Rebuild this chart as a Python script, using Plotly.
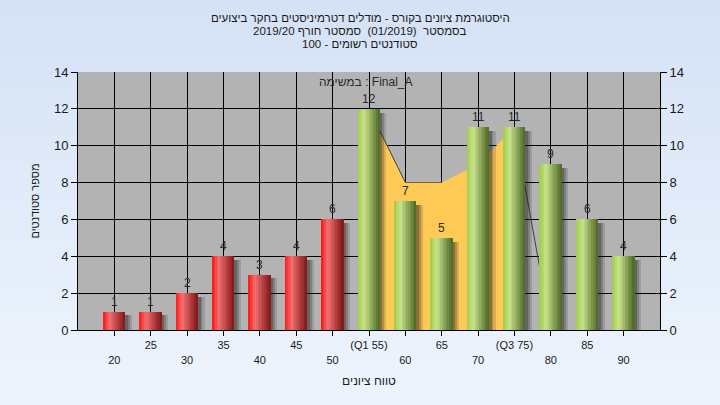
import plotly.graph_objects as go

# ---- data ----
categories = [20, 25, 30, 35, 40, 45, 50, 55, 60, 65, 70, 75, 80, 85, 90]
counts = [1, 1, 2, 4, 3, 4, 6, 12, 7, 5, 11, 11, 9, 6, 4]
fail_limit = 55  # bars below are red
tick_labels = ["20", "25", "30", "35", "40", "45", "50", "(Q1 55)", "60", "65",
               "70", "(Q3 75)", "80", "85", "90"]
curve_x = [55, 60, 65, 70, 75, 80]
curve_y = [12, 8, 8, 9, 11, 0]
y_ticks = [0, 2, 4, 6, 8, 10, 12, 14]

title_lines = ["היסטוגרמת ציונים בקורס - מודלים דטרמיניסטים בחקר ביצועים",
               "בסמסטר  (01/2019)  סמסטר חורף 2019/20",
               "סטודנטים רשומים - 100"]
series_label = "במשימה : Final_A"
x_title = "טווח ציונים"
y_title = "מספר סטודנטים"

FONT = "Liberation Sans, Arial, sans-serif"
W, H = 720, 405
ML, MR, MT, MB = 78, 60, 72, 75
PW, PH = W - ML - MR, H - MT - MB

fig = go.Figure()

# area behind bars (main axes)
n_fill = 5
fig.add_trace(go.Scatter(x=curve_x[:n_fill], y=curve_y[:n_fill], mode="lines",
                         fill="tozeroy", fillcolor="#FFC955",
                         line=dict(width=0, color="#FFC955"), hoverinfo="skip",
                         showlegend=False))
fig.add_trace(go.Scatter(x=curve_x[:2], y=curve_y[:2], mode="lines",
                         line=dict(width=1, color="#404040"), showlegend=False,
                         hoverinfo="skip"))
fig.add_trace(go.Scatter(x=curve_x[-2:], y=curve_y[-2:], mode="lines",
                         line=dict(width=1, color="#404040"), showlegend=False,
                         hoverinfo="skip"))

bar_w = 3.0
# shadows (on overlay axis y2, above the area)
for off, alpha in [(0.9, 0.16), (0.6, 0.22), (0.35, 0.28)]:
    fig.add_trace(go.Bar(x=categories, y=[max(v - 0.2, 0) for v in counts],
                         yaxis="y2", width=bar_w, offset=-bar_w / 2 + off,
                         marker=dict(color=f"rgba(30,30,30,{alpha})", line=dict(width=0)),
                         hoverinfo="skip", showlegend=False))


def lerp(c1, c2, t):
    return tuple(int(round(a + (b - a) * t)) for a, b in zip(c1, c2))


def grad(stops, t):
    for (t0, c0), (t1, c1) in zip(stops, stops[1:]):
        if t <= t1:
            return lerp(c0, c1, (t - t0) / (t1 - t0))
    return stops[-1][1]


red_stops = [(0, (255, 20, 20)), (0.3, (242, 112, 112)), (1.0, (128, 22, 22))]
green_stops = [(0, (158, 204, 68)), (0.3, (200, 226, 140)), (1.0, (78, 104, 38))]

N = 14
sw = bar_w / N
for i in range(N):
    t = (i + 0.5) / N
    cr = grad(red_stops, t)
    cg = grad(green_stops, t)
    colors = [f"rgb{cr}" if c < fail_limit else f"rgb{cg}" for c in categories]
    fig.add_trace(go.Bar(x=categories, y=counts, yaxis="y2", width=sw * 1.05,
                         offset=-bar_w / 2 + i * sw,
                         marker=dict(color=colors, line=dict(width=0)),
                         showlegend=False, hoverinfo="skip"))

tick_text = []
for i, t in enumerate(tick_labels):
    tick_text.append("<br>" + t if i % 2 == 0 else t + "<br> ")

# background gradient bands + gray plot area (drawn below gridlines)
shapes = []
NB = 27
top_c, bot_c = (213, 226, 245), (238, 244, 253)
for k in range(NB):
    c = lerp(top_c, bot_c, k / (NB - 1))
    y1 = 1 + MT / PH - k * (H / PH) / NB
    y0 = y1 - (H / PH) / NB - 0.002
    shapes.append(dict(type="rect", xref="paper", yref="paper", x0=-ML / PW,
                       x1=1 + MR / PW, y0=y0, y1=y1, layer="below",
                       fillcolor=f"rgb{c}", line=dict(width=0)))
shapes.append(dict(type="rect", xref="paper", yref="paper", x0=0, x1=1, y0=0, y1=1,
                   layer="below", fillcolor="#B3B3B3", line=dict(width=0)))

title_centers = [17.5, 30.5, 43.5]
annotations = []
for line, yc in zip(title_lines, title_centers):
    annotations.append(dict(text=line, xref="paper", yref="paper",
                            x=(360 - ML) / PW, y=1.0, yshift=MT - yc,
                            xanchor="center", yanchor="middle", showarrow=False,
                            font=dict(size=11.5, color="#1a1a1a")))
annotations.append(dict(text=series_label, xref="x", yref="y", x=54.6, y=13.45,
                        xanchor="center", yanchor="middle", showarrow=False,
                        font=dict(size=12, color="#2a2a2a")))
# value labels above bars
for c, v in zip(categories, counts):
    annotations.append(dict(text=str(v), xref="x", yref="y2", x=c, y=v, yshift=10,
                            xanchor="center", yanchor="middle", showarrow=False,
                            font=dict(size=12, color="#2a2a2a")))

fig.update_layout(
    width=W, height=H,
    margin=dict(l=ML, r=MR, t=MT, b=MB),
    paper_bgcolor="#E4EDF9",
    plot_bgcolor="rgba(0,0,0,0)",
    barmode="overlay",
    bargap=0,
    font=dict(family=FONT, color="#1a1a1a"),
    xaxis=dict(range=[15, 95], tickmode="array", tickvals=categories, ticktext=tick_text,
               ticks="outside", ticklen=5, tickcolor="black", showgrid=True,
               gridcolor="black", gridwidth=1, showline=True, linecolor="black",
               zeroline=False, tickfont=dict(size=11, color="#1a1a1a"),
               automargin=False,
               title=dict(text=x_title, font=dict(size=12), standoff=12)),
    yaxis=dict(range=[0, 14], tickvals=y_ticks, ticks="outside", ticklen=6,
               tickcolor="black", showgrid=True, gridcolor="black", gridwidth=1,
               showline=True, linecolor="black", zeroline=False, automargin=False,
               tickfont=dict(size=13, color="#1a1a1a"),
               title=dict(text=y_title, font=dict(size=11), standoff=12)),
    yaxis2=dict(range=[0, 14], tickvals=y_ticks, overlaying="y", side="right",
                ticks="outside", ticklen=6, tickcolor="black", showgrid=False,
                showline=True, linecolor="black", zeroline=False, automargin=False,
                tickfont=dict(size=13, color="#1a1a1a")),
    shapes=shapes,
    annotations=annotations,
)

fig.write_html("out.html", config={"displayModeBar": False},
               post_script="document.body.style.margin='0px';"
                           "document.body.style.background='#E4EDF9';")
